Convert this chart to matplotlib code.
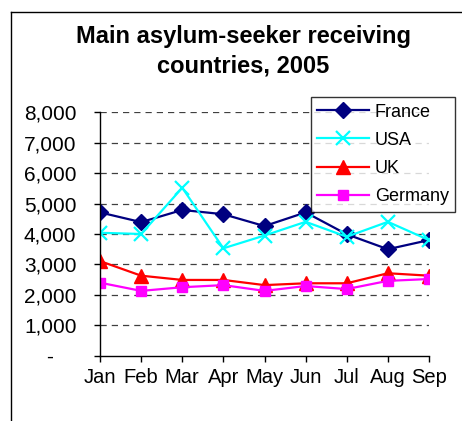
import matplotlib
matplotlib.use("Agg")
import matplotlib.pyplot as plt
from matplotlib.lines import Line2D

plt.rcParams['font.family'] = ['Liberation Sans', 'DejaVu Sans']

months = ["Jan", "Feb", "Mar", "Apr", "May", "Jun", "Jul", "Aug", "Sep"]
france = [4710, 4390, 4790, 4650, 4260, 4710, 3990, 3500, 3800]
usa = [4040, 4000, 5520, 3530, 3950, 4400, 3910, 4400, 3800]
uk = [3110, 2630, 2490, 2490, 2320, 2380, 2380, 2710, 2630]
germany = [2400, 2130, 2250, 2320, 2130, 2290, 2190, 2460, 2520]
yticks = [0, 1000, 2000, 3000, 4000, 5000, 6000, 7000, 8000]
ytick_labels = ["-    ", "1,000", "2,000", "3,000", "4,000", "5,000", "6,000", "7,000", "8,000"]
title = "Main asylum-seeker receiving\ncountries, 2005"

W, H = 462, 421
fig = plt.figure(figsize=(W / 100, H / 100), dpi=100)
ax = fig.add_axes([100 / W, 1 - 355.7 / H, (429 - 100) / W, (355.7 - 112.3) / H])

x = list(range(len(months)))
ax.plot(x, france, color="#000080", lw=1.6, marker="D", ms=8.5, mfc="#000080", mec="#000080", label="France")
ax.plot(x, usa, color="#00FFFF", lw=1.6, marker="x", ms=9.5, mew=1.6, label="USA")
ax.plot(x, uk, color="#FF0000", lw=1.6, marker="^", ms=9.5, label="UK")
ax.plot(x, germany, color="#FF00FF", lw=1.6, marker="s", ms=7.5, label="Germany")

ax.set_xlim(0, 8)
ax.set_ylim(0, 8000)
ax.set_xticks(x)
ax.set_xticklabels(months, fontsize=14.5)
ax.set_yticks(yticks)
ax.set_yticklabels(ytick_labels, fontsize=15)
ax.tick_params(axis="both", direction="out", length=4, width=1, color="black")
ax.tick_params(axis="x", pad=4.5)
ax.tick_params(axis="y", pad=13)
for v in yticks[1:]:
    ax.axhline(v, color="#404040", lw=0.9, dashes=(5, 4), zorder=0)
for s in ["top", "right"]:
    ax.spines[s].set_visible(False)
for s in ["left", "bottom"]:
    ax.spines[s].set_linewidth(1)
    ax.spines[s].set_color("black")

fig.text(243 / W, 1 - 25 / H, title, ha="center", va="top", fontsize=17, fontweight="bold", linespacing=1.35)

leg = ax.legend(loc="upper left", bbox_to_anchor=(310.7 / W, 1 - 97.3 / H), bbox_transform=fig.transFigure,
                fontsize=13, frameon=True, fancybox=False, shadow=False, handlelength=2.9,
                handletextpad=0.3, labelspacing=0.62, borderpad=0.35, borderaxespad=0)
leg.get_frame().set_edgecolor("black")
leg.get_frame().set_linewidth(1)

fig.add_artist(Line2D([11 / W, 11 / W], [0, 1 - 11.5 / H], transform=fig.transFigure, color="black", lw=1))
fig.add_artist(Line2D([11 / W, 1], [1 - 11.5 / H, 1 - 11.5 / H], transform=fig.transFigure, color="black", lw=1))

fig.savefig("out.png", dpi=100)
